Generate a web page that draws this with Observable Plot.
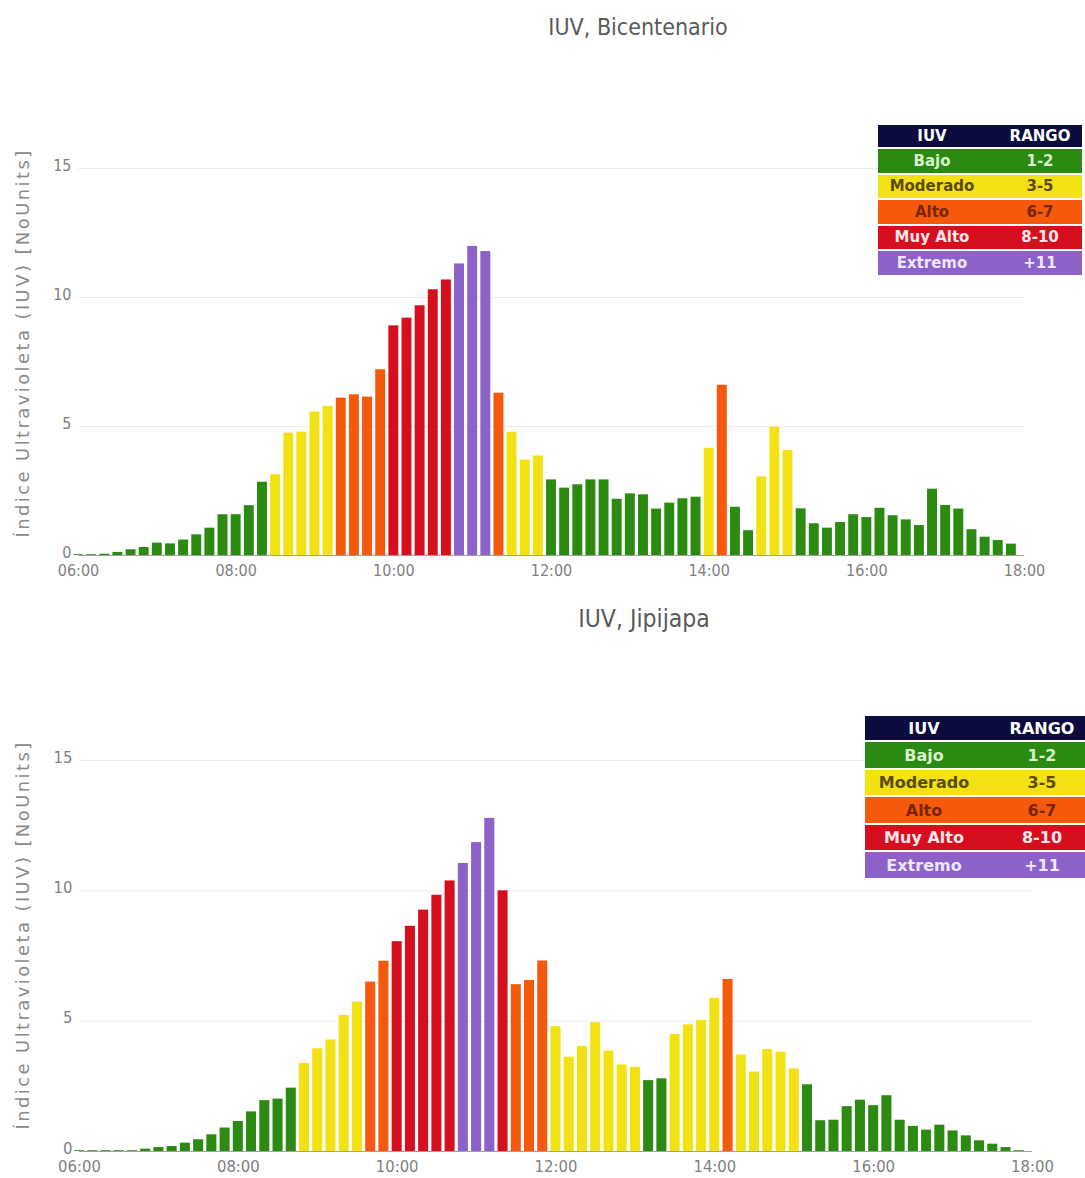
<!DOCTYPE html>
<html>
<head>
<meta charset="utf-8">
<script src="https://cdn.jsdelivr.net/npm/d3@7"></script>
<script src="https://cdn.jsdelivr.net/npm/@observablehq/plot@0.6"></script>
<style>
  body { margin: 0; background: #fff; }
  #root { position: relative; width: 1085px; height: 1178px; overflow: hidden; background: #fff;
          font-family: "DejaVu Sans Condensed", "Liberation Sans Narrow", "DejaVu Sans", sans-serif; }
  .title { position: absolute; color: #5a5a5a; white-space: nowrap; transform: translate(-50%, -50%); }
  .ylab { position: absolute; color: #8a8a8a; white-space: nowrap; font-family: "DejaVu Sans", sans-serif;
          font-size: 18px; letter-spacing: 2.4px; transform: translate(-50%, -50%) rotate(-90deg); }
  .panel { position: absolute; left: 0; }
  .legend { position: absolute; font-family: "DejaVu Sans", sans-serif; font-weight: bold; }
  .legend .row { position: relative; margin-bottom: 2px; }
  .legend .row span { position: absolute; top: 50%; transform: translate(-50%, -50%); white-space: nowrap; }
</style>
</head>
<body>
<div id="root"></div>
<script>
// ---- data ----
const bicentenario = [
  0.03, 0.03, 0.05, 0.12, 0.22, 0.31, 0.48, 0.45, 0.60, 0.80, 1.06, 1.58,
  1.58, 1.93, 2.84, 3.13, 4.74, 4.78, 5.56, 5.78, 6.10, 6.23, 6.14, 7.20,
  8.90, 9.20, 9.68, 10.30, 10.68, 11.30, 11.98, 11.78, 6.29, 4.78, 3.70, 3.86,
  2.93, 2.61, 2.74, 2.93, 2.93, 2.18, 2.39, 2.35, 1.80, 2.03, 2.20, 2.26,
  4.16, 6.60, 1.87, 0.96, 3.05, 4.97, 4.07, 1.81, 1.23, 1.06, 1.28, 1.58,
  1.47, 1.83, 1.54, 1.38, 1.16, 2.57, 1.94, 1.80, 1.00, 0.71, 0.58, 0.44
];
const jipijapa = [
  0.03, 0.03, 0.03, 0.03, 0.03, 0.09, 0.15, 0.19, 0.32, 0.45, 0.64, 0.90,
  1.15, 1.52, 1.95, 2.01, 2.43, 3.38, 3.94, 4.28, 5.22, 5.73, 6.50, 7.30,
  8.05, 8.64, 9.26, 9.83, 10.38, 11.05, 11.85, 12.78, 10.00, 6.40, 6.56, 7.31,
  4.79, 3.62, 4.03, 4.94, 3.85, 3.32, 3.23, 2.72, 2.79, 4.49, 4.86, 5.03,
  5.88, 6.60, 3.70, 3.05, 3.91, 3.81, 3.17, 2.56, 1.18, 1.20, 1.72, 1.97,
  1.76, 2.14, 1.20, 0.96, 0.82, 1.01, 0.79, 0.60, 0.41, 0.28, 0.15, 0.03
];
const titles = ["IUV, Bicentenario", "IUV, Jipijapa"];
const yLabel = "Índice Ultravioleta (IUV) [NoUnits]";
const hourTicks = [6, 8, 10, 12, 14, 16, 18];
const tickLabels = ["06:00", "08:00", "10:00", "12:00", "14:00", "16:00", "18:00"];
const yTicks = [0, 5, 10, 15];
const iuvThresholds = [3, 6, 8, 11];
const iuvColors = ["#2a8a12", "#f2e214", "#f5590c", "#d60f1f", "#8c62c9"];
const legendHeader = ["IUV", "RANGO"];
const legendLevels = ["Bajo", "Moderado", "Alto", "Muy Alto", "Extremo"];
const legendRanges = ["1-2", "3-5", "6-7", "8-10", "+11"];
const legendTextColors = ["#d9f2cc", "#5e4a06", "#7a2400", "#ffe6ea", "#ece6ff"];
const legendHeaderColor = "#0b0b3d";

const root = document.getElementById("root");
const FONT = '"DejaVu Sans Condensed", "Liberation Sans Narrow", "DejaVu Sans", sans-serif';

function panel(values, cfg) {
  const data = values.map((v, i) => ({h: 6 + i / 6, iuv: v}));
  const svg = Plot.plot({
    width: 1085,
    height: cfg.height,
    marginTop: cfg.mt, marginBottom: cfg.mb, marginLeft: cfg.ml, marginRight: cfg.mr,
    x: {domain: [6, 18]},
    y: {domain: [0, 15]},
    color: {type: "threshold", domain: iuvThresholds, range: iuvColors},
    style: {fontFamily: FONT, fontSize: cfg.tickFs + "px", color: "#808080", background: "transparent", overflow: "visible"},
    marks: [
      Plot.gridY(yTicks.slice(1), {stroke: "#ececec", strokeOpacity: 1, strokeWidth: 1}),
      Plot.rectY(data, {x1: d => d.h - 1 / 12, x2: d => d.h + 1 / 12, y: "iuv", fill: "iuv", insetLeft: 1.6, insetRight: 1.6}),
      Plot.ruleY([0], {stroke: "#a0a0a0", strokeWidth: 1}),
      Plot.axisY(yTicks, {tickSize: 0, tickPadding: 7, dy: -3, label: null, fontSize: cfg.tickFs}),
      Plot.axisX(hourTicks, {tickSize: 0, tickPadding: cfg.xPad, tickFormat: d => tickLabels[hourTicks.indexOf(d)], label: null, fontSize: cfg.tickFs})
    ]
  });
  svg.classList.add("panel");
  svg.style.top = cfg.top + "px";
  root.appendChild(svg);

  const t = document.createElement("div");
  t.className = "title";
  t.textContent = cfg.title;
  t.style.fontSize = cfg.titleFs + "px";
  t.style.left = cfg.titleX + "px";
  t.style.top = cfg.titleY + "px";
  root.appendChild(t);

  const yl = document.createElement("div");
  yl.className = "ylab";
  yl.textContent = yLabel;
  yl.style.left = cfg.ylX + "px";
  yl.style.top = cfg.ylY + "px";
  root.appendChild(yl);

  const lg = document.createElement("div");
  lg.className = "legend";
  lg.style.left = cfg.lgX + "px";
  lg.style.top = cfg.lgY + "px";
  lg.style.width = cfg.lgW + "px";
  lg.style.fontSize = cfg.lgFs + "px";
  const mkRow = (a, b, bg, fg, h) => {
    const r = document.createElement("div");
    r.className = "row";
    r.style.background = bg;
    r.style.color = fg;
    r.style.height = h + "px";
    const s1 = document.createElement("span"); s1.textContent = a; s1.style.left = cfg.c1 + "px";
    const s2 = document.createElement("span"); s2.textContent = b; s2.style.left = cfg.c2 + "px";
    r.appendChild(s1); r.appendChild(s2);
    lg.appendChild(r);
  };
  mkRow(legendHeader[0], legendHeader[1], legendHeaderColor, "#ffffff", cfg.rowH - 1.5);
  legendLevels.forEach((lv, i) => mkRow(lv, legendRanges[i], iuvColors[i], legendTextColors[i], cfg.rowH));
  root.appendChild(lg);
}

panel(bicentenario, {top: 0, height: 600, mt: 168, mb: 45, ml: 78, mr: 61, tickFs: 16, xPad: 9,
  title: titles[0], titleFs: 23, titleX: 638, titleY: 27, ylX: 22, ylY: 343,
  lgX: 878, lgY: 125, lgW: 204, lgFs: 15, c1: 54, c2: 162, rowH: 23.5});
panel(jipijapa, {top: 600, height: 578, mt: 160, mb: 27, ml: 79, mr: 53, tickFs: 16.5, xPad: 9,
  title: titles[1], titleFs: 24.5, titleX: 644, titleY: 618, ylX: 22, ylY: 935,
  lgX: 865, lgY: 716, lgW: 220, lgFs: 16, c1: 59, c2: 177, rowH: 25.5});
</script>
</body>
</html>
